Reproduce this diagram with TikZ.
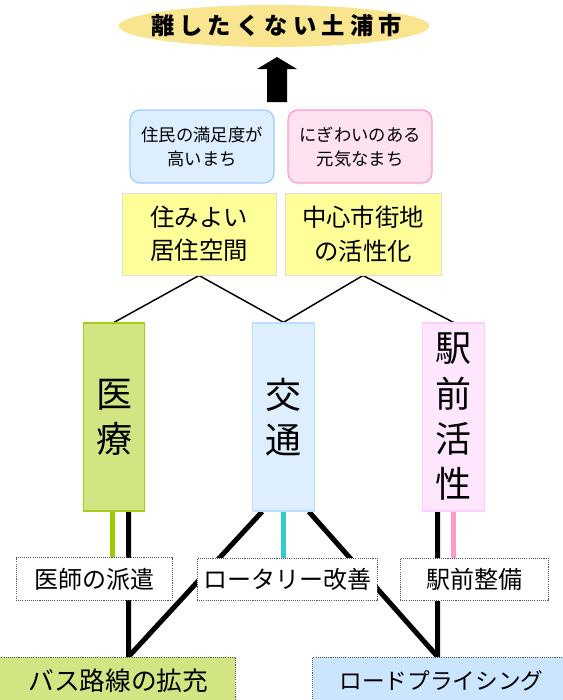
\documentclass[tikz,border=0pt]{standalone}
\usepackage{fontspec}
\setmainfont{Noto Sans CJK JP}
\usetikzlibrary{shapes.geometric,backgrounds}
\definecolor{titlegold}{HTML}{F9E48F}
\definecolor{bluefill}{HTML}{DDEEFF}
\definecolor{blueline}{HTML}{99CCFF}
\definecolor{pinkfill}{HTML}{FFE2F2}
\definecolor{pinkline}{HTML}{FF99CC}
\definecolor{yelfill}{HTML}{FFFF99}
\definecolor{yelline}{HTML}{DDDDDD}
\definecolor{grnfill}{HTML}{D1E582}
\definecolor{grnline}{HTML}{A6CC1C}
\definecolor{kblueline}{HTML}{BBDDFF}
\definecolor{kpinkfill}{HTML}{FFE6FF}
\definecolor{kpinkline}{HTML}{FFCCFF}
\definecolor{grnbar}{HTML}{99CC00}
\definecolor{cyanbar}{HTML}{33CCCC}
\definecolor{pinkbar}{HTML}{FF99CC}
\definecolor{roadfill}{HTML}{CCE5FF}
\definecolor{dotgray}{HTML}{555555}
\begin{document}
\begin{tikzpicture}[x=0.75pt,y=-0.75pt,
  titlebox/.style={ellipse, fill=titlegold, inner sep=0pt, minimum width=233pt, minimum height=31.5pt,
    font=\fontsize{17.5}{20}\selectfont\bfseries\addfontfeatures{LetterSpace=22}},
  goalbox/.style={draw, rounded corners=7.5pt, line width=0.9pt, inner sep=0pt, align=center,
    minimum width=108pt, minimum height=54.75pt, font=\fontsize{13}{18}\selectfont},
  yelbox/.style={draw=yelline, fill=yelfill, line width=0.75pt, inner sep=0pt, align=center,
    minimum height=61.5pt, font=\fontsize{18.3}{25}\selectfont},
  pillar/.style={draw, line width=0.9pt, inner sep=0pt, align=center,
    minimum width=46pt, minimum height=141pt, font=\fontsize{27}{34}\selectfont},
  measure/.style={draw=dotgray, fill=white, dash pattern=on 0.8pt off 0.8pt, line width=0.7pt,
    inner sep=0pt, align=center, minimum height=32pt, font=\fontsize{18}{20}\selectfont},
  result/.style={draw=dotgray, dash pattern=on 0.8pt off 0.8pt, line width=0.7pt,
    inner sep=0pt, align=center, minimum height=36pt},
  thin/.style={line width=1.1pt},
  thick/.style={line width=3.75pt},
  bar/.style={line width=3.75pt}
]
\useasboundingbox (0,0) rectangle (563,700);

\node[titlebox] (goal) at (274,26) {\makebox[0pt]{\kern3.8pt 離したくない土浦市}};
\fill[black] (267,102) -- (267,69) -- (257,69) -- (277,57) -- (297,69) -- (287,69) -- (287,102) -- cycle;

\node[goalbox, draw=blueline, fill=bluefill] (satis) at (202,146.5) {住民の満足度が\\高いまち};
\node[goalbox, draw=pinkline, fill=pinkfill] (lively) at (360,146.5) {にぎわいのある\\元気なまち};

\node[yelbox, minimum width=115.5pt] (live) at (199,234) {住みよい\\居住空間};
\node[yelbox, minimum width=117pt] (center) at (363,234) {中心市街地\\の活性化};

\node[pillar, draw=grnline, fill=grnfill] (iryo) at (114,417) {医\\療};
\node[pillar, draw=kblueline, fill=bluefill] (kotsu) at (283.5,417) {交\\通};
\node[pillar, draw=kpinkline, fill=kpinkfill] (eki) at (453.5,417) {駅\\前\\活\\性};

\node[measure, minimum width=117pt] (haken) at (94,579) {医師の派遣};
\node[measure, minimum width=135pt] (rotary) at (287,579.5) {ロータリー改善};
\node[measure, minimum width=111pt] (seibi) at (474,579.5) {駅前整備};

\node[result, fill=grnfill, minimum width=180pt, font=\fontsize{19.3}{22}\selectfont] (bus) at (115,681) {\hspace*{5pt}バス路線の拡充};
\node[result, fill=roadfill, minimum width=193pt, font=\fontsize{17}{20}\selectfont] (road) at (441.5,681) {ロードプライシング};

\coordinate (busin) at ([xshift=11]iryo.south |- bus.north);
\coordinate (roadin) at ([xshift=-12]eki.south |- road.north);

\begin{scope}[on background layer]
  \draw[thin] (live.south) -- (iryo.north);
  \draw[thin] (live.south) -- (kotsu.north);
  \draw[thin] (center.south) -- (kotsu.north);
  \draw[thin] (center.south) -- (eki.north);
  \draw[bar, grnbar] ([xshift=-1]iryo.south) -- ([xshift=-1]iryo.south |- haken.north);
  \draw[bar, cyanbar] (kotsu.south) -- (kotsu.south |- rotary.north);
  \draw[bar, pinkbar] (eki.south) -- (eki.south |- seibi.north);
  \draw[thick, miter limit=20] ([xshift=11]iryo.south) -- (busin) -- ([xshift=-16]kotsu.south);
  \draw[thick, miter limit=20] ([xshift=-12]eki.south) -- (roadin) -- ([xshift=19]kotsu.south);
\end{scope}
\end{tikzpicture}
\end{document}
